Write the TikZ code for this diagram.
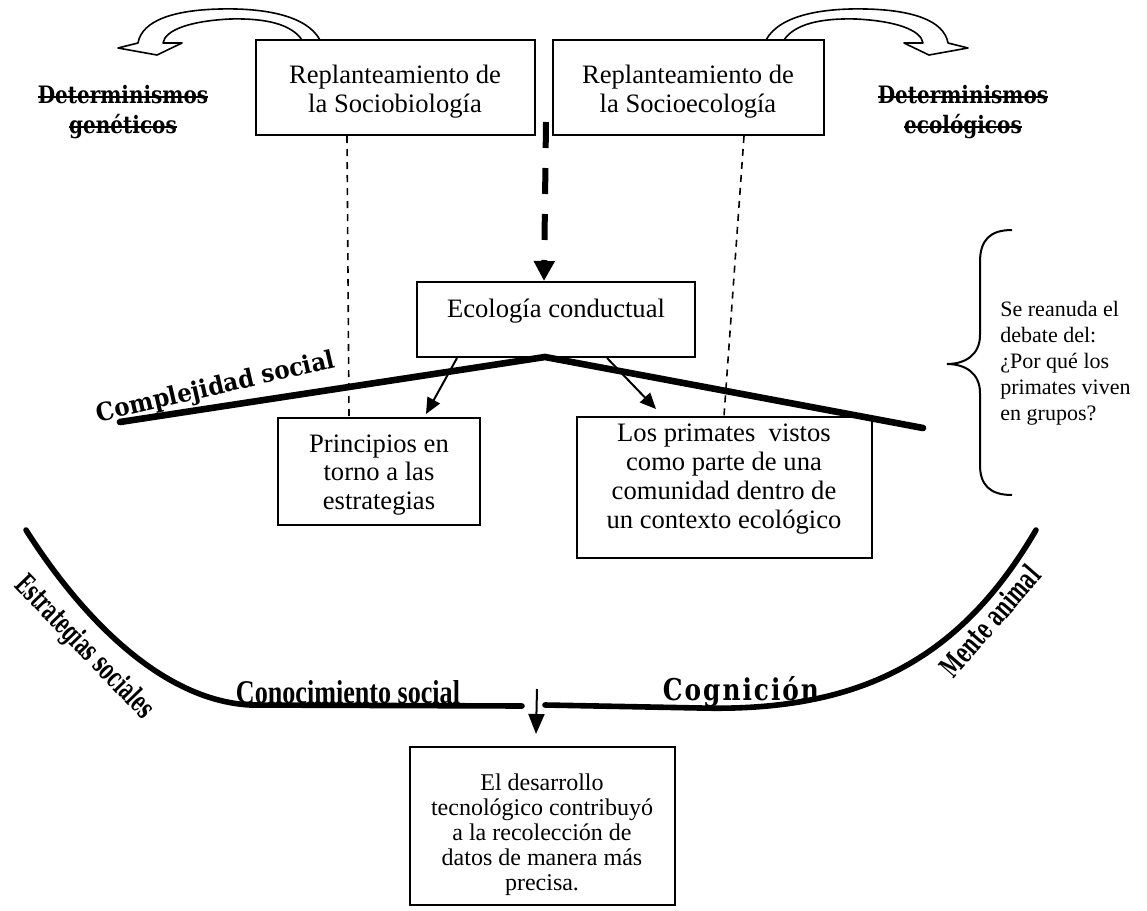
\documentclass[tikz,border=0pt]{standalone}
\usepackage{fontspec}
\usepackage{graphicx}
\setmainfont{Liberation Serif}
\newfontfamily\bkfont{DejaVu Serif}
\newcommand\strk[1]{\setbox0\hbox{#1}\rlap{\rule[0.45ex]{\wd0}{0.09em}}\box0}
\usetikzlibrary{arrows.meta,calc}
\begin{document}
\begin{tikzpicture}[x=0.5pt,y=-0.5pt,
  box/.style={draw, line width=1pt, inner sep=0pt},
  txt/.style={align=center, inner sep=0pt, font=\fontsize{13.3}{14.4}\selectfont},
  lbl/.style={inner sep=0pt, font=\bkfont\bfseries},
  dotline/.style={line width=0.8pt, dash pattern=on 3.5pt off 3pt},
  heavy/.style={line width=2.8pt, line cap=round},
  ptr/.style={line width=1pt, -{Triangle[length=8pt,width=7pt]}},
  curvarrow/.style={line width=0.8pt, fill=white, line join=round}
]
\useasboundingbox (0,0) rectangle (1147,911);

% curved hollow arrows
\draw[curvarrow] (320,40) .. controls (306,14) and (260,8) .. (220,9)
  .. controls (175,10) and (142,20) .. (138,43) -- (118,48) -- (157,55) -- (182,43) -- (163,43)
  .. controls (165,30) and (190,21) .. (230,19) .. controls (268,18) and (292,25) .. (302,40) -- cycle;
\draw[curvarrow] (766,40) .. controls (780,14) and (826,8) .. (866,9)
  .. controls (911,10) and (944,20) .. (948,43) -- (968,48) -- (929,55) -- (904,43) -- (923,43)
  .. controls (921,30) and (896,21) .. (856,19) .. controls (818,18) and (794,25) .. (784,40) -- cycle;

% boxes
\node[box, minimum width=139.5pt, minimum height=47.5pt] (soc) at (395.5,87.5) {};
\node[box, minimum width=135.5pt, minimum height=47.5pt] (seco) at (688.5,87.5) {};
\node[box, minimum width=139pt, minimum height=37.5pt] (eco) at (556,319.5) {};
\node[box, minimum width=101pt, minimum height=53.5pt] (princ) at (379,471.5) {};
\node[box, minimum width=147.5pt, minimum height=70.5pt] (prim) at (724.5,487.5) {};
\node[box, minimum width=132.5pt, minimum height=79pt] (tech) at (542.5,826) {};

% box texts
\node[txt] (socT) at (395,92) {Replanteamiento de\\la Sociobiología};
\node[txt] (secoT) at (688,92) {Replanteamiento de\\la Socioecología};
\node[txt] (ecoT) at (556,311) {Ecología conductual};
\node[txt] (princT) at (379,475) {Principios en\\torno a las\\estrategias};
\node[txt] (primT) at (724,479) {Los primates\ \ vistos\\como parte de una\\comunidad dentro de\\un contexto ecológico};
\node[txt, font=\fontsize{12}{12.5}\selectfont] (techT) at (542,835) {El desarrollo\\tecnológico contribuyó\\a la recolección de\\datos de manera más\\precisa.};
\node[align=left, inner sep=0pt, anchor=west, font=\fontsize{11}{13}\selectfont] (debT) at (1000,363) {Se reanuda el\\debate del:\\¿Por qué los\\primates viven\\en grupos?};

% struck-out labels
\node[lbl, align=center, font={\bkfont\bfseries\fontsize{10}{15}\selectfont}] (detg) at (123,112) {\scalebox{1}[1.2]{\strk{Determinismos}}\\\scalebox{1}[1.2]{\strk{genéticos}}};
\node[lbl, align=center, font={\bkfont\bfseries\fontsize{10}{15}\selectfont}] (dete) at (963,112) {\scalebox{1}[1.2]{\strk{Determinismos}}\\\scalebox{1}[1.2]{\strk{ecológicos}}};

% thick dashed arrow
\draw[line width=3pt, dash pattern=on 13pt off 10pt, -{Triangle[length=10pt,width=10pt]}]
  ($(soc.north east)+(10,83)$) -- ($(eco.north west)+(128,0)$);

% thin dashed lines
\draw[dotline] ($(soc.south west)+(92,0)$) -- ($(princ.north west)+(72,0)$);
\draw[dotline] ($(seco.south west)+(192,0)$) -- ($(prim.north west)+(148,0)$);

% complexity line
\draw[line width=3.3pt, line cap=round] (120,422) -- (545,357) -- (923,428);
\node[lbl, rotate=13] (cplx) at (216,388) {\resizebox{122pt}{9.5pt}{Complejidad social}};

% arrows from Ecologia
\draw[ptr] ($(eco.south west)+(41,0)$) -- ($(princ.north west)+(149,-3)$);
\draw[ptr] ($(eco.south west)+(191,0)$) -- ($(prim.north west)+(80,-7)$);

% brace
\draw[line width=1pt] (1012,230) .. controls (990,230) and (980,240) .. (980,262) -- (980,335)
  .. controls (980,355) and (965,364) .. (947,364)
  .. controls (965,364) and (980,373) .. (980,393) -- (980,465)
  .. controls (980,485) and (990,495) .. (1012,495);

% bottom curves
\draw[heavy] (26,530) .. controls (80,615) and (160,700) .. (250,705) -- (522,706);
\draw[heavy] (545,705) -- (700,708) .. controls (860,712) and (960,660) .. (1036,530);
\node[lbl, rotate=-46] (estr) at (84,648) {\resizebox{93pt}{11pt}{Estrategias sociales}};
\node[lbl, rotate=49] (mente) at (990,621) {\resizebox{68pt}{11pt}{Mente animal}};
\node[lbl, font={\bkfont\bfseries\addfontfeatures{LetterSpace=8}}] (cogn) at (741,692) {\resizebox{78pt}{12pt}{Cognición}};
\node[inner sep=0pt, font=\bfseries] (conoc) at (348,692) {\resizebox{112pt}{11.5pt}{Conocimiento social}};

% small arrow
\coordinate (sa) at (537,689);
\draw[line width=1pt, -{Triangle[length=10pt,width=8pt]}] (sa) -- ($(tech.north west)+(127,-12)$);
\end{tikzpicture}
\end{document}
